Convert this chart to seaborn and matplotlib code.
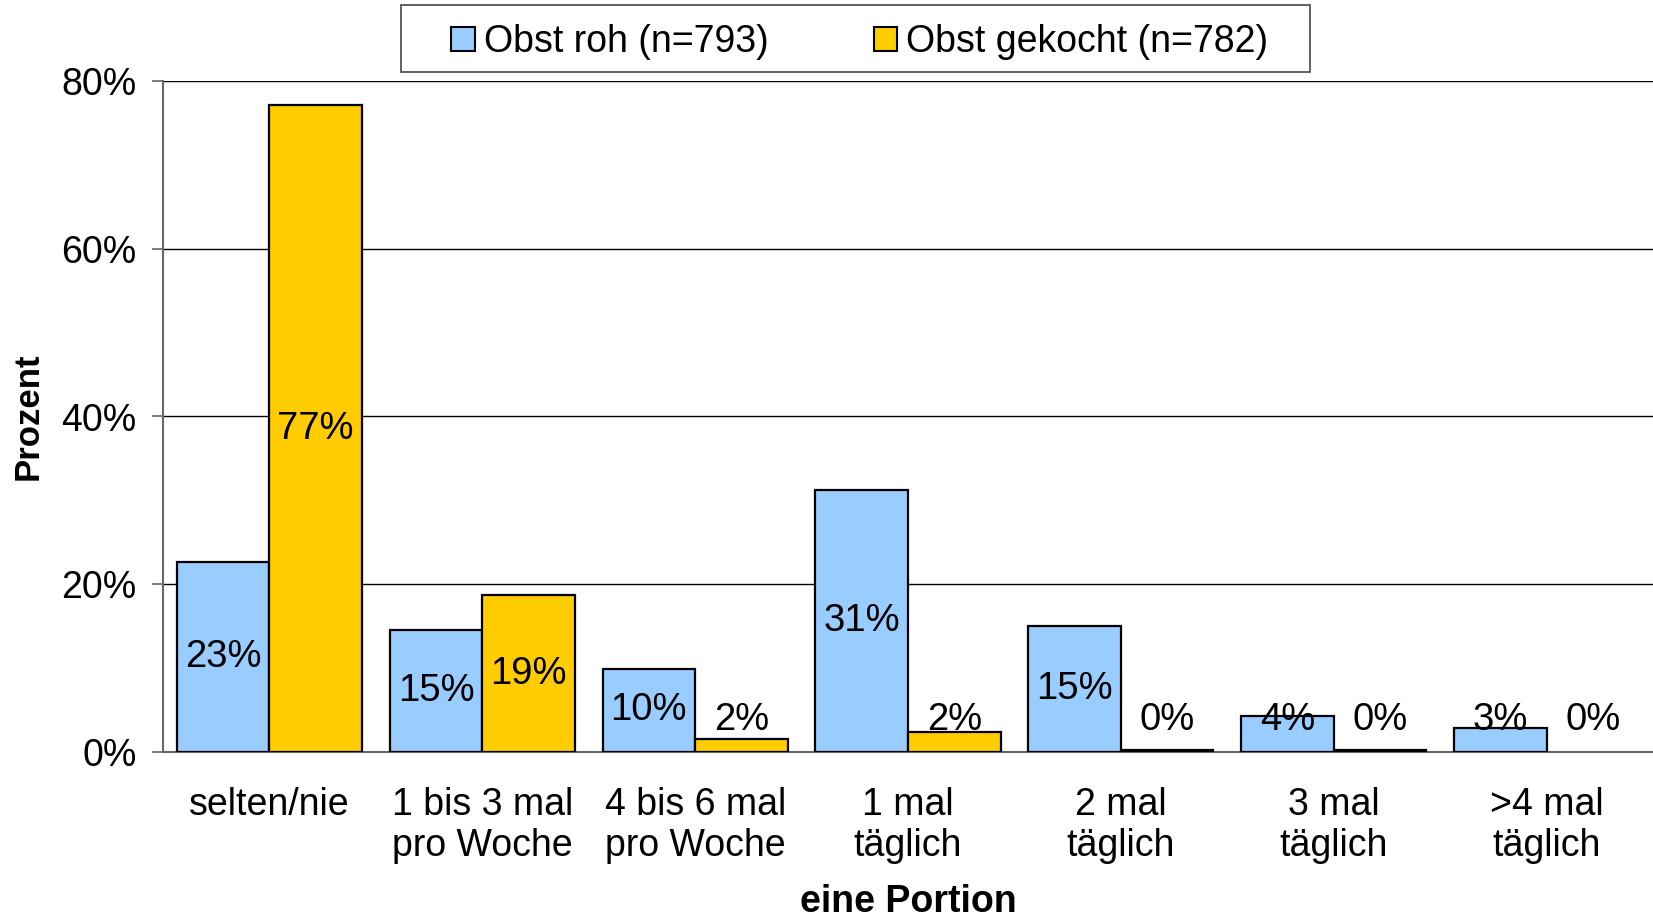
import pandas as pd
import seaborn as sns
import matplotlib.pyplot as plt
from matplotlib.patches import Rectangle, Patch

sns.set_theme(style="white")
plt.rcParams['font.family'] = ['Liberation Sans', 'DejaVu Sans']
plt.rcParams['text.color'] = 'black'
plt.rcParams['axes.labelcolor'] = 'black'
plt.rcParams['xtick.color'] = 'black'
plt.rcParams['ytick.color'] = 'black'

categories = ['selten/nie', '1 bis 3 mal\npro Woche', '4 bis 6 mal\npro Woche',
              '1 mal\ntäglich', '2 mal\ntäglich', '3 mal\ntäglich', '>4 mal\ntäglich']
roh = [22.7, 14.6, 9.9, 31.2, 15.0, 4.3, 2.9]
gekocht = [77.1, 18.7, 1.6, 2.4, 0.2, 0.2, 0.0]
series_names = ['Obst roh (n=793)', 'Obst gekocht (n=782)']
colors = ['#99CCFF', '#FFCC00']
y_ticks = [0, 20, 40, 60, 80]


def build_frame():
	rows = []
	for name, vals in zip(series_names, [roh, gekocht]):
		for cat, v in zip(categories, vals):
			rows.append({'kategorie': cat, 'wert': v, 'serie': name})
	return pd.DataFrame(rows)


def plot_obst(df: pd.DataFrame):
	fig = plt.figure(figsize=(16.53, 9.21), dpi=100)
	ax = fig.add_axes([163 / 1653, 1 - 752 / 921, 1 - 163 / 1653, (752 - 81) / 921])

	sns.barplot(data=df, x='kategorie', y='wert', hue='serie', palette=colors,
				width=0.87, gap=0, saturation=1, edgecolor='black', linewidth=1.6,
				legend=False, ax=ax, zorder=3)

	for p in ax.patches:
		if p.get_height() == 0:
			p.set_linewidth(0)

	# Beschriftungen (bei kleinen Balken etwas hoeher)
	n = len(categories)
	for i, vals in enumerate([roh, gekocht]):
		cont = ax.containers[i]
		for bar, v in zip(cont, vals):
			xc = bar.get_x() + bar.get_width() / 2
			yc = max(v / 2, 3.8)
			ax.text(xc, yc, f"{round(v):.0f}%", ha='center', va='center', fontsize=27.5, zorder=4)

	ax.set_xlim(-0.5, n - 0.5)
	ax.set_ylim(0, 80)
	ax.set_yticks(y_ticks)
	ax.set_yticklabels([f"{t}%" for t in y_ticks], fontsize=27)
	ax.yaxis.grid(True, color='black', linewidth=1.0, zorder=0)
	ax.set_axisbelow(True)

	ax.set_xticks(range(n))
	ax.set_xticklabels(categories, fontsize=27, linespacing=1.2, va='top')
	ax.set_xticks([k - 0.5 for k in range(n + 1)], minor=True)
	ax.tick_params(axis='x', which='major', length=0, pad=25)
	ax.tick_params(axis='x', which='minor', length=12, width=1.2, color='#666666', direction='out')
	ax.tick_params(axis='y', length=8, width=1.2, color='#666666', direction='out', pad=11, left=True)

	for s in ['top', 'right']:
		ax.spines[s].set_visible(False)
	for s in ['left', 'bottom']:
		ax.spines[s].set_color('#666666')
		ax.spines[s].set_linewidth(1.5)

	ax.set_xlabel('eine Portion', fontsize=27, fontweight='bold', labelpad=14)
	ax.set_ylabel('Prozent', fontsize=25, fontweight='bold', labelpad=12)

	handles = [Patch(facecolor=c, edgecolor='black', linewidth=1.5) for c in colors]
	fig.legend(handles, series_names, loc='center', bbox_to_anchor=(860 / 1653, 1 - 42 / 921),
			   ncol=2, frameon=False, fontsize=27, handlelength=0.62, handleheight=0.62,
			   handletextpad=0.25, columnspacing=2.8)
	fig.patches.append(Rectangle((401 / 1653, 1 - 72 / 921), (1310 - 401) / 1653, 67 / 921,
								 transform=fig.transFigure, fill=False, edgecolor='#555555',
								 linewidth=1.3))

	fig.savefig('out.png', dpi=100)


def main():
	plot_obst(build_frame())


if __name__ == "__main__":
	main()
